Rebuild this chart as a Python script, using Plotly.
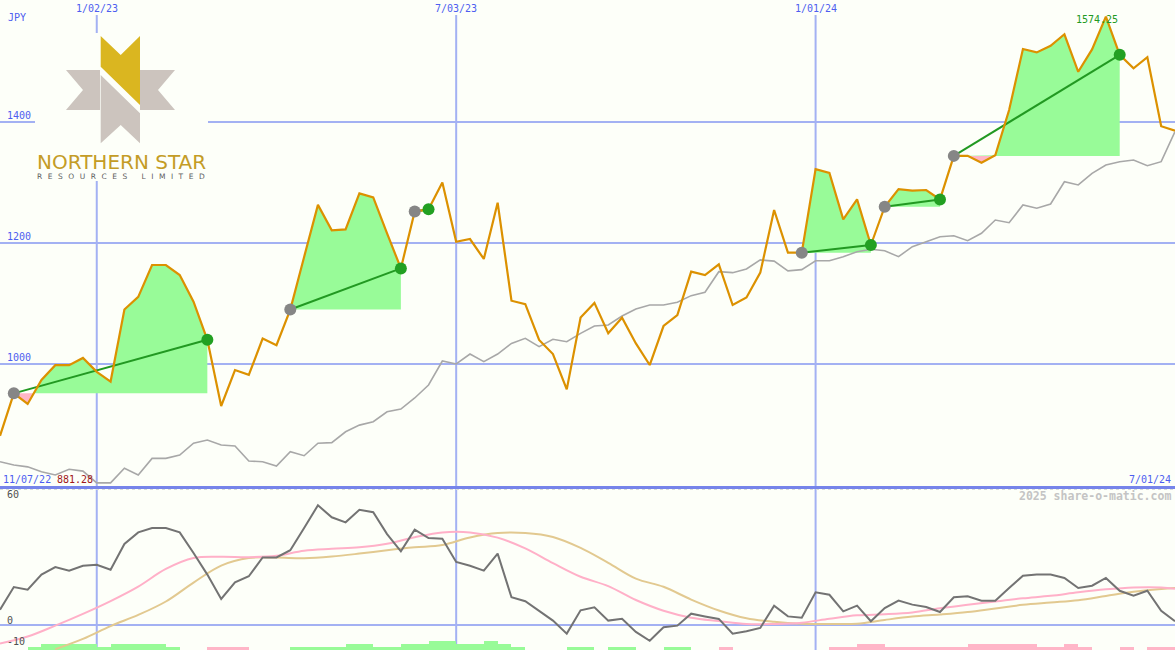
import plotly.graph_objects as go
import pandas as pd

W, H = 1175, 650
BG = "#fdfff9"
GRID = "#a3b1f3"
BLUE = "#4d5ef0"
MONO = "DejaVu Sans Mono"

# ---------------- data ----------------
start_date = "2022-11-14"
n_weeks = 86
dates = pd.date_range(start_date, periods=n_weeks, freq="7D")

price = [881.28, 951.5, 934, 973.5, 998, 998, 1010, 987, 971, 1090,
         1111, 1163.6, 1163.6, 1147, 1103, 1040, 930.6, 990, 982, 1042,
         1031, 1090, 1177, 1263, 1221, 1222.6, 1282, 1275.5, 1216, 1158,
         1252, 1255.6, 1300, 1202, 1206.6, 1173.6, 1266.6, 1104.6, 1099, 1039.7,
         1016.5, 958, 1077, 1101, 1050.7, 1076.6, 1034, 998.3, 1062.8, 1081,
         1152.6, 1147, 1164.8, 1097.5, 1110, 1151, 1254.5, 1184, 1184, 1322,
         1316, 1239, 1272, 1196.7, 1260, 1289, 1286.5, 1287.6, 1272, 1344,
         1344, 1332.7, 1345, 1419.8, 1520.7, 1515, 1526, 1545, 1483, 1520,
         1574.25, 1511, 1488.7, 1507, 1393, 1385.6]

relative = [838.5, 833, 830, 822, 816.5, 826, 823, 803.6, 803.6, 827.6,
            816.5, 844, 844, 849.6, 869, 874.4, 866, 864.5, 839.7, 838.5,
            831.4, 855, 848.4, 869, 870, 888, 899, 904.6, 921, 925.6,
            943.8, 965.3, 1005, 1000, 1016.5, 1003.8, 1016.5, 1034, 1042.5, 1028.6,
            1040.8, 1036.9, 1050.7, 1062.8, 1064.5, 1079.3, 1091, 1097.5, 1097.5, 1102,
            1113, 1118.5, 1152.6, 1151, 1157, 1172, 1170, 1154, 1156, 1170.7,
            1170.7, 1177.4, 1185.6, 1189.6, 1187.3, 1177.4, 1194, 1202, 1210.4, 1212,
            1203.8, 1216, 1238, 1233.5, 1262.8, 1257.4, 1264.5, 1301.3, 1295.9, 1315.2,
            1329, 1334.4, 1337.2, 1327.8, 1334.4, 1384]

# trades: (entry week index, exit week index)
trade_entry = [1, 21, 30, 58, 64, 69]
trade_exit = [15, 29, 31, 63, 68, 81]

osc = [7.3, 18.1, 16.8, 24, 27.6, 25.9, 28.2, 28.7, 26.3, 38.6,
       44.1, 46.2, 46.2, 44.1, 34.3, 24, 12.4, 20.3, 23.2, 32.2,
       32.2, 35.6, 46.2, 57, 51.3, 48.9, 54.9, 53.7, 43.3, 35.1,
       45.4, 41.4, 41.1, 30, 28.2, 25.9, 34, 13.2, 11.3, 6.8,
       2.1, -4.1, 7, 8.4, 2.1, 3, -3.3, -7.5, -1.1, -0.3,
       5.4, 4.1, 2.9, -4.1, -3, -1.4, 9.2, 4.1, 3.5, 15.6,
       14.4, 6.5, 9.2, 1.8, 8.1, 11.6, 9.7, 8.6, 6.2, 13.2,
       13.7, 11.6, 11.6, 17.6, 23.5, 24, 24, 22.4, 17.6, 18.7,
       22.4, 16.3, 14, 16.3, 6.8, 1.8]

pink_idx = [0, 2, 4, 6, 8, 10, 12, 14, 16, 18, 20, 22, 24, 26, 28, 30, 32, 34, 36, 38,
            40, 42, 44, 46, 48, 50, 52, 54, 56, 58, 60, 62, 64, 66, 68, 70, 72, 74, 76, 78,
            80, 82, 84, 85]
pink_val = [-8.8, -5.5, -0.3, 5.3, 11.4, 18.3, 26.7, 31.9, 32.5, 32.3, 33, 35.4, 36.3, 37, 38.7, 41.8,
            44.1, 44.1, 41.6, 36.5, 29.5, 23, 18.5, 11.9, 6.8, 3.5, 1.9, 0.5, 0.5, 1.1, 3.0, 4.6,
            5.1, 6, 8, 9.6, 11.2, 12.7, 13.9, 15.6, 17.0, 17.9, 17.9, 17.3]

tan_idx = [4, 6, 8, 10, 12, 14, 16, 18, 20, 22, 24, 26, 28, 30, 32, 34, 36, 38, 40, 42,
           44, 46, 48, 50, 52, 54, 56, 58, 60, 62, 64, 66, 68, 70, 72, 74, 76, 78, 80, 82,
           84, 85]
tan_val = [-11.5, -6.6, -0.5, 4.8, 11.2, 20.2, 28.3, 31.9, 32.1, 31.8, 32.6, 34.0, 35.6, 37.0,
           38.1, 41.7, 43.8, 43.8, 41.9, 36.7, 29.6, 22.1, 18.2, 12.1, 6.9, 3.2, 1.5, 0.6, 0.5,
           0.6, 2.4, 4.0, 5.0, 6.2, 7.9, 9.6, 10.7, 11.8, 13.8, 15.8, 17.2, 17.6]

# weekly signal bars: +n green, -n pink (height level)
bar_level = [0, 0, 1, 2, 2, 2, 2, 1, 2, 2, 2, 2, 1, 0, 0, -1, -1, -1, 0, 0,
             0, 1, 1, 1, 1, 2, 2, 1, 1, 2, 2, 3, 3, 2, 2, 3, 2, 1, 0, 0,
             0, 1, 1, 0, 1, 1, 0, 0, 1, 1, 0, 0, -1, 0, 0, 0, 0, 0, 0, 0,
             -1, -1, -2, -2, -1, -1, -1, -1, -1, -1, -2, -2, -2, -2, -2, -1, -1, -2, -1, 0,
             0, -1, 0, -1, -1]

grid_dates = ["2023-01-02", "2023-07-03", "2024-01-01"]
grid_date_labels = ["1/02/23", "7/03/23", "1/01/24"]
price_grid = [1000, 1200, 1400]
osc_labels = [60, 0, -10]

# ---------------- figure ----------------
fig = go.Figure()

# trade fills
for i0, i1 in zip(trade_entry, trade_exit):
    base = price[i0]
    pts = []
    for i in range(i0, i1):
        t0, t1 = dates[i], dates[i + 1]
        p0, p1 = price[i], price[i + 1]
        pts.append((t0, p0))
        if (p0 - base) * (p1 - base) < 0:
            f = (base - p0) / (p1 - p0)
            pts.append((t0 + (t1 - t0) * f, base))
    pts.append((dates[i1], price[i1]))
    for col, fn in (("#98fb98", max), ("#ffb6c6", min)):
        xs = [t for t, _ in pts] + [dates[i1], dates[i0]]
        ys = [fn(p, base) for _, p in pts] + [base, base]
        fig.add_trace(go.Scatter(x=xs, y=ys, mode="lines", fill="toself",
                                 fillcolor=col, line=dict(width=0, color=col),
                                 hoverinfo="skip"))

# relative line
fig.add_trace(go.Scatter(x=dates, y=relative, mode="lines",
                         line=dict(color="#a8a8a8", width=1.6)))

# trade lines
for i0, i1 in zip(trade_entry, trade_exit):
    fig.add_trace(go.Scatter(x=[dates[i0], dates[i1]], y=[price[i0], price[i1]],
                             mode="lines", line=dict(color="#229922", width=2)))

# price
fig.add_trace(go.Scatter(x=dates, y=price, mode="lines",
                         line=dict(color="#dc9100", width=2.2)))

# markers
fig.add_trace(go.Scatter(x=[dates[i] for i in trade_entry], y=[price[i] for i in trade_entry],
                         mode="markers", marker=dict(color="#868686", size=12)))
fig.add_trace(go.Scatter(x=[dates[i] for i in trade_exit], y=[price[i] for i in trade_exit],
                         mode="markers", marker=dict(color="#22a022", size=12)))

# lower panel bars
bar_x = [dates[i] + pd.Timedelta(hours=84) for i in range(len(bar_level))]
fig.add_trace(go.Bar(x=bar_x, y=[abs(v) * 1.4 for v in bar_level], base=-11.9,
                     width=7 * 24 * 3600 * 1000,
                     marker=dict(color=["#98fb98" if v > 0 else "#ffb6c8" for v in bar_level],
                                 line=dict(width=0)),
                     yaxis="y2"))

fig.add_trace(go.Scatter(x=[dates[i] for i in tan_idx], y=tan_val, mode="lines",
                         line=dict(color="#e2c990", width=2, shape="spline"), yaxis="y2"))
fig.add_trace(go.Scatter(x=[dates[i] for i in pink_idx], y=pink_val, mode="lines",
                         line=dict(color="#ffb0c8", width=2, shape="spline"), yaxis="y2"))
fig.add_trace(go.Scatter(x=dates, y=osc, mode="lines",
                         line=dict(color="#737373", width=2), yaxis="y2"))


def P(x):
    return x / W


def Q(y):
    return 1 - y / H


shapes = []
for d in grid_dates:
    shapes.append(dict(type="line", xref="x", yref="paper", x0=d, x1=d, y0=0, y1=Q(15),
                       line=dict(color=GRID, width=2), layer="below"))
for v in price_grid:
    shapes.append(dict(type="line", xref="paper", yref="y", x0=0, x1=1, y0=v, y1=v,
                       line=dict(color=GRID, width=2), layer="below"))
shapes.append(dict(type="line", xref="paper", yref="y2", x0=0, x1=1, y0=0, y1=0,
                   line=dict(color=GRID, width=2), layer="below"))
shapes.append(dict(type="line", xref="paper", yref="paper", x0=0, x1=1, y0=Q(487.5), y1=Q(487.5),
                   line=dict(color="#7684ea", width=3), layer="below"))
shapes.append(dict(type="line", xref="paper", yref="paper", x0=0, x1=1, y0=Q(489.5), y1=Q(489.5),
                   line=dict(color="#d8dcd8", width=1, dash="dot"), layer="below"))
# logo backdrop
shapes.append(dict(type="rect", xref="paper", yref="paper", x0=P(35), x1=P(208), y0=Q(181), y1=Q(33),
                   fillcolor=BG, line=dict(width=0), layer="below"))


def path(pts):
    return "M " + " L ".join(f"{P(x):.5f},{Q(y):.5f}" for x, y in pts) + " Z"


logo_gold = [(100.7, 36), (120.7, 55), (140, 36), (140, 105), (100.7, 66.7)]
logo_left = [(66, 70), (100, 70), (100, 110), (66, 110), (83, 90)]
logo_right = [(140, 70), (175, 70), (158, 90), (175, 110), (140, 110)]
logo_bottom = [(100.7, 75), (140, 113.3), (140, 143.3), (120.7, 125), (100.7, 143.3)]
for pts, col in ((logo_left, "#ccc4be"), (logo_right, "#ccc4be"), (logo_bottom, "#ccc4be"),
                 (logo_gold, "#dab620")):
    shapes.append(dict(type="path", xref="paper", yref="paper", path=path(pts),
                       fillcolor=col, line=dict(width=0), layer="above"))

ann = []


def txt(x, y, s, color=BLUE, size=10, anchor="left", xref="paper", yref="paper", bold=False,
        family=MONO, yshift=0):
    ann.append(dict(x=x, y=y, xref=xref, yref=yref, text=f"<b>{s}</b>" if bold else s,
                    showarrow=False, xanchor=anchor, yanchor="middle", yshift=yshift,
                    font=dict(family=family, size=size, color=color)))


txt(P(6), Q(18), "JPY")
for v in price_grid:
    txt(P(5), v, str(v), yref="y", yshift=7)
for d, s in zip(grid_dates, grid_date_labels):
    txt(d, Q(8), s, anchor="center", xref="x")
txt(P(1), Q(479.5), "11/07/22")
txt(P(55), Q(479.5), f"{min(price):.2f}", color="#a01818")
txt(P(1173), Q(479.5), "7/01/24", anchor="right")
txt(P(1173), Q(496), "2025 share-o-matic.com", color="#c4c4c4", size=11.5, anchor="right", bold=True)
imax = price.index(max(price))
ann.append(dict(x=dates[imax], y=price[imax], text=f"{max(price):.2f}", showarrow=False,
                xanchor="center", yanchor="middle", xshift=-9, yshift=-3,
                font=dict(family=MONO, size=10, color="#229922")))
for v in osc_labels:
    ann.append(dict(x=P(5), xref="paper", y=v, yref="y2", text=str(v), showarrow=False,
                    xanchor="left", yanchor="middle", yshift=5,
                    font=dict(family=MONO, size=10, color="#505050")))
# logo text
txt(P(121.5), Q(162), "NORTHERN STAR", color="#c49c26", size=20, anchor="center",
    family="DejaVu Sans")
sp = "\u00a0\u00a0\u200a"
txt(P(121.5), Q(176), sp.join("RESOURCES") + "\u00a0" * 6 + sp.join("LIMITED"),
    color="#5e5e5e", size=7.5, anchor="center", family="DejaVu Sans")

fig.update_layout(
    width=W, height=H, margin=dict(l=0, r=0, t=0, b=0),
    paper_bgcolor=BG, plot_bgcolor=BG, showlegend=False,
    xaxis=dict(range=[dates[0], dates[-1]], visible=False, showgrid=False, zeroline=False),
    yaxis=dict(domain=[163 / 650, 1], range=[796.7, 1601.65], visible=False),
    yaxis2=dict(domain=[0, 162 / 650], range=[-11.9, 65.24], visible=False, anchor="x"),
    shapes=shapes, annotations=ann, bargap=0,
)

fig.write_html("out.html", config={"displayModeBar": False},
               post_script="document.body.style.margin='0';document.body.style.overflow='hidden';")
